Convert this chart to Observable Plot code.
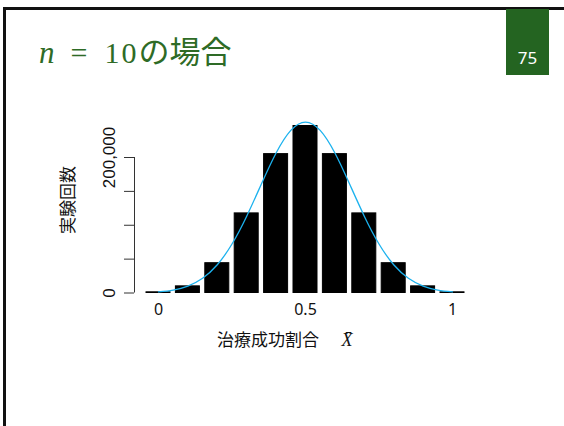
<!DOCTYPE html>
<html>
<head>
<meta charset="utf-8">
<script src="https://cdn.jsdelivr.net/npm/d3@7"></script>
<script src="https://cdn.jsdelivr.net/npm/@observablehq/plot@0.6"></script>
<style>
  html, body { margin: 0; padding: 0; background: #fff; }
  #slide { position: relative; width: 564px; height: 426px; overflow: hidden; background: #fff; }
  #topline { position: absolute; left: 3px; top: 7px; width: 561px; height: 2.5px; background: #111; }
  #leftline { position: absolute; left: 3px; top: 7px; width: 3px; height: 419px; background: #111; }
  #pagebox { position: absolute; left: 506px; top: 9px; width: 43px; height: 66px; background: #246421;
             color: #fff; font: 17px "Noto Sans", sans-serif; text-align: center; }
  #pagebox span { position: absolute; left: 0; right: 0; top: 37px; }
  #title { position: absolute; left: 39px; top: 27px; display: flex; align-items: baseline; color: #2e6b26; white-space: nowrap; }
  #title .m { font-family: "Liberation Serif", serif; font-size: 30px; }
  #title .i { font-style: italic; font-size: 31px; }
  #title .d { letter-spacing: 2px; }
  #title .j { font-family: "Noto Sans CJK JP", sans-serif; font-size: 31px; }
  #chart { position: absolute; left: 0; top: 0; }
</style>
</head>
<body>
<div id="slide">
  <div id="topline"></div>
  <div id="leftline"></div>
  <div id="title"><span class="m i">n</span><span class="m" style="margin-left:16px">=</span><span class="m d" style="margin-left:17px">10</span><span class="j">の場合</span></div>
  <div id="pagebox"><span>75</span></div>
  <div id="chart"></div>
</div>
<script>
// Sample proportion of treatment successes (n = 10), 1,000,000 simulated trials
const proportions = [0, 0.1, 0.2, 0.3, 0.4, 0.5, 0.6, 0.7, 0.8, 0.9, 1];
const counts = [1000, 9800, 44000, 117500, 205000, 246500, 205000, 117500, 44000, 9800, 1000];

// Normal approximation curve (mean 0.5, sd 0.158), on the count scale
const curveX = [0, 0.05, 0.1, 0.15, 0.2, 0.25, 0.3, 0.35, 0.4, 0.45, 0.5,
                0.55, 0.6, 0.65, 0.7, 0.75, 0.8, 0.85, 0.9, 0.95, 1];
const curveY = [1700, 4400, 10300, 21800, 41700, 72300, 113400, 160900, 206600, 240000, 252300,
                240000, 206600, 160900, 113400, 72300, 41700, 21800, 10300, 4400, 1700];

// Axis ticks and labels
const yTicks = [0, 50000, 100000, 150000, 200000];
const yLabels = [0, 200000];
const xTicks = [0, 0.5, 1];
const xTitle = "治療成功割合";
const xSymbol = "X\u0304";
const yTitle = "実験回数";

const bars = proportions.map((x, i) => ({x, count: counts[i]}));
const curve = curveX.map((x, i) => ({x, y: curveY[i]}));
const half = 0.05;

const chart = Plot.plot({
  width: 564,
  height: 426,
  marginLeft: 143.3,
  marginRight: 97.3,
  marginTop: 116.35,
  marginBottom: 133.5,
  style: {background: "transparent", overflow: "visible"},
  x: {domain: [-0.05, 1.05]},
  y: {domain: [0, 260000]},
  marks: [
    Plot.rectY(bars, {
      x1: d => d.x - half, x2: d => d.x + half, y: "count",
      insetLeft: 2.7, insetRight: 2.7,
      fill: "#000", stroke: "#000", strokeWidth: 1
    }),
    Plot.line(curve, {x: "x", y: "y", stroke: "#1cb2ee", strokeWidth: 1.3, curve: "natural"}),
    // y axis line spanning the labelled range
    Plot.ruleX([-0.05], {y1: 0, y2: 200000, dx: -9.3, stroke: "#333", strokeWidth: 1}),
    Plot.axisY({ticks: yTicks, tickSize: 10, dx: -9.3, tickFormat: () => "", label: null, stroke: "#333"}),
    Plot.text(yLabels, {
      y: d => d, frameAnchor: "left", dx: -34.3, rotate: -90,
      text: d => d3.format(",")(d), textAnchor: "middle", lineAnchor: "middle",
      fontSize: 17, fontFamily: "Liberation Sans, sans-serif", fill: "#111"
    }),
    Plot.text([yTitle], {
      frameAnchor: "left", dx: -75.3, dy: -5, rotate: -90,
      textAnchor: "middle", lineAnchor: "middle",
      fontSize: 17, fontFamily: "Noto Sans CJK JP, sans-serif", fill: "#111"
    }),
    Plot.axisX({ticks: xTicks, tickSize: 0, tickPadding: 11, label: null,
      tickFormat: d => String(d), fontSize: 16, fontFamily: "Noto Sans, sans-serif", fill: "#111"}),
    Plot.text([xTitle], {
      frameAnchor: "bottom", dx: -37.5, dy: 47.5, lineAnchor: "middle",
      fontSize: 17, fontFamily: "Noto Sans CJK JP, sans-serif", fill: "#111"
    }),
    Plot.text([xSymbol], {
      frameAnchor: "bottom", dx: 41.5, dy: 47.5, lineAnchor: "middle",
      fontSize: 18, fontStyle: "italic", fontFamily: "Liberation Serif, serif", fill: "#111"
    })
  ]
});
document.getElementById("chart").appendChild(chart);
</script>
</body>
</html>
